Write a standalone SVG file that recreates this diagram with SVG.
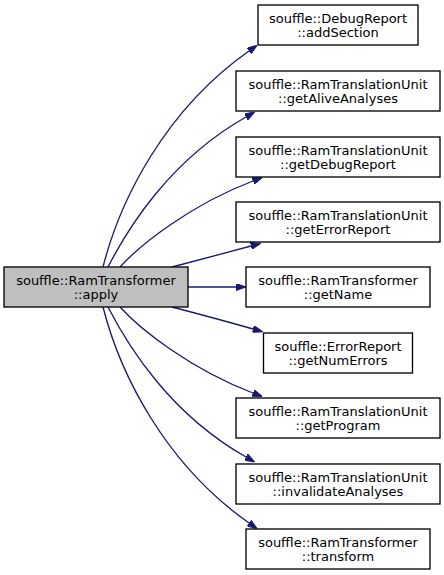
<svg xmlns="http://www.w3.org/2000/svg" width="444" height="575" viewBox="0 0 444 575">
<style>
.node rect{fill:#ffffff;stroke:#000000;stroke-width:1.33}
#n0 rect{fill:#bfbfbf}
.node text{font-family:"DejaVu Sans",sans-serif;font-size:13px;text-anchor:middle;fill:#000000}
.edges path{fill:none;stroke:#191970;stroke-width:1.33;marker-end:url(#arr)}
</style>
<defs>
<marker id="arr" viewBox="0 0 10 7" refX="0" refY="3.5" markerWidth="10" markerHeight="7" markerUnits="userSpaceOnUse" orient="auto">
<path d="M0,0 L10,3.5 L0,7 z" fill="#191970" stroke="#191970" stroke-width="1"/>
</marker>
</defs>
<rect width="444" height="575" fill="#ffffff"/>
<g class="edges" id="edges">
<path d="M103,267 C120,200 165,110 249,51"/>
<path d="M108,267 C128,228 170,160 246,117"/>
<path d="M120,267 C140,245 190,205 253,181"/>
<path d="M172,267 C195,261 225,253 251,246"/>
<path d="M188,287 L236,287"/>
<path d="M172,307 C195,313 225,321 253,329"/>
<path d="M120,307 C140,329 190,369 253,393"/>
<path d="M108,307 C128,346 170,414 246,457"/>
<path d="M103,307 C120,374 165,464 249,523"/>
</g>
<g class="node" id="n0"><rect x="4" y="267" width="184" height="40"/><text x="96" y="284.5">souffle::RamTransformer</text><text x="96" y="298.5">::apply</text></g>
<g class="node" id="n1"><rect x="258" y="5" width="160" height="40"/><text x="338" y="22.5">souffle::DebugReport</text><text x="338" y="36.5">::addSection</text></g>
<g class="node" id="n2"><rect x="236" y="71" width="204" height="40"/><text x="338" y="88.5">souffle::RamTranslationUnit</text><text x="338" y="102.5">::getAliveAnalyses</text></g>
<g class="node" id="n3"><rect x="236" y="137" width="204" height="40"/><text x="338" y="154.5">souffle::RamTranslationUnit</text><text x="338" y="168.5">::getDebugReport</text></g>
<g class="node" id="n4"><rect x="236" y="202" width="204" height="40"/><text x="338" y="219.5">souffle::RamTranslationUnit</text><text x="338" y="233.5">::getErrorReport</text></g>
<g class="node" id="n5"><rect x="246" y="267" width="184" height="40"/><text x="338" y="284.5">souffle::RamTransformer</text><text x="338" y="298.5">::getName</text></g>
<g class="node" id="n6"><rect x="263.5" y="333" width="149" height="40"/><text x="338" y="350.5">souffle::ErrorReport</text><text x="338" y="364.5">::getNumErrors</text></g>
<g class="node" id="n7"><rect x="236" y="398" width="204" height="40"/><text x="338" y="415.5">souffle::RamTranslationUnit</text><text x="338" y="429.5">::getProgram</text></g>
<g class="node" id="n8"><rect x="236" y="464" width="204" height="40"/><text x="338" y="481.5">souffle::RamTranslationUnit</text><text x="338" y="495.5">::invalidateAnalyses</text></g>
<g class="node" id="n9"><rect x="246" y="529" width="184" height="40"/><text x="338" y="546.5">souffle::RamTransformer</text><text x="338" y="560.5">::transform</text></g>
</svg>
